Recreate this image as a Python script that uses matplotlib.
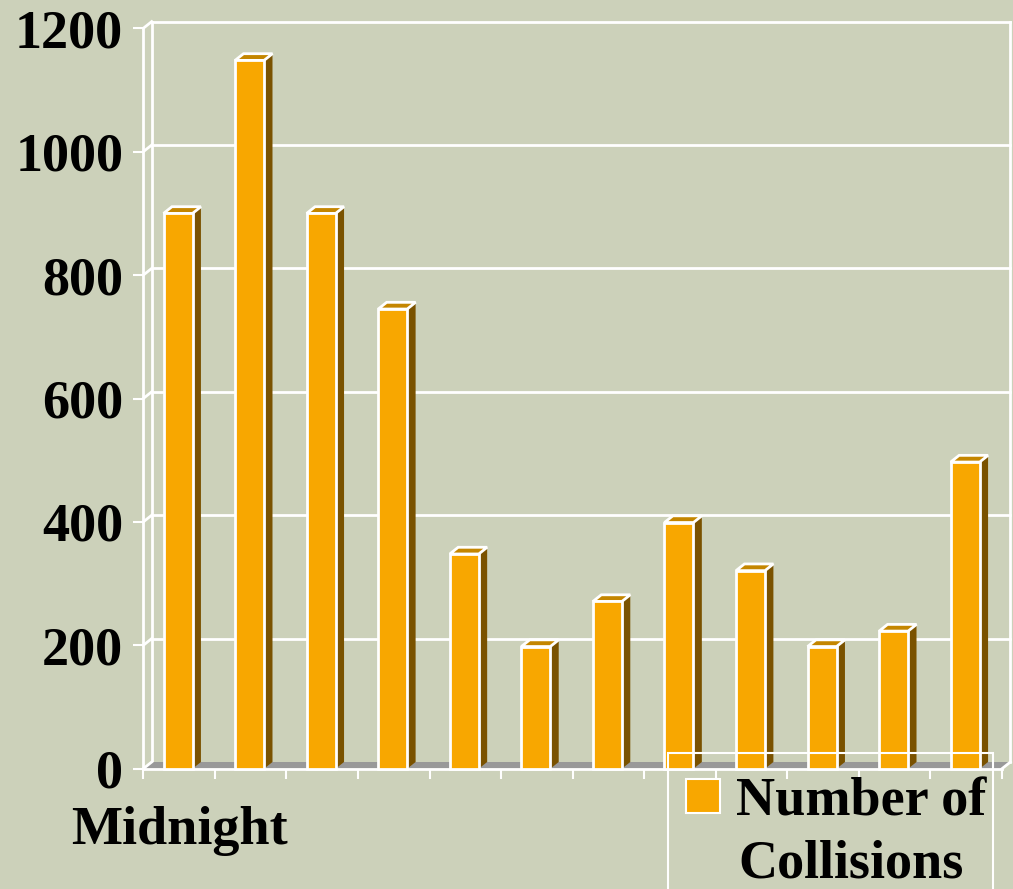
import matplotlib
matplotlib.use("Agg")
import matplotlib.pyplot as plt
from matplotlib.patches import Polygon, Rectangle

# ---- data ----
categories = ["Midnight", "", "", "", "", "", "", "", "", "", "", ""]
collisions = [900, 1148, 900, 745, 348, 198, 271, 399, 321, 198, 223, 497]
yticks = [0, 200, 400, 600, 800, 1000, 1200]
legend_label = "Number of\nCollisions"

# ---- style ----
BG = "#CCD1BA"
FRONT = "#F8A700"
TOP = "#C48600"
SIDE = "#7A5200"
FLOOR = "#999999"
W = "white"
FS = 39

W_PX, H_PX = 1013, 889
fig = plt.figure(figsize=(W_PX / 100, H_PX / 100), dpi=100, facecolor=BG)
x0_px, x1_px = 143.3, 1002.0
y0_px, y1_px = 768.7, 28.3
ax = fig.add_axes([x0_px / W_PX, (H_PX - y0_px) / H_PX,
                   (x1_px - x0_px) / W_PX, (y0_px - y1_px) / H_PX])
ax.set_facecolor("none")
n = len(collisions)
ax.set_xlim(0, n)
ax.set_ylim(0, 1200)
for s in ax.spines.values():
    s.set_visible(False)

px_x = n / (x1_px - x0_px)
px_y = 1200 / (y0_px - y1_px)
ddx = 8.4 * px_x
ddy = 6.7 * px_y
lw = 2.0

# back wall gridlines + side wall diagonals
for v in yticks:
    if v == 0:
        continue
    ax.plot([ddx, n + ddx], [v + ddy, v + ddy], color=W, lw=lw, clip_on=False, zorder=1)
    ax.plot([0, ddx], [v, v + ddy], color=W, lw=lw, clip_on=False, zorder=1)
ax.plot([ddx, ddx], [ddy, 1200 + ddy], color=W, lw=lw, clip_on=False, zorder=1)
ax.plot([n + ddx, n + ddx], [ddy, 1200 + ddy], color=W, lw=lw, clip_on=False, zorder=1)
ax.plot([0, 0], [0, 1200], color=W, lw=lw, clip_on=False, zorder=1)

# floor
floor = Polygon([(0, 0), (n, 0), (n + ddx, ddy), (ddx, ddy)], closed=True,
                facecolor=FLOOR, edgecolor="none", clip_on=False, zorder=2)
ax.add_patch(floor)
ax.plot([0, ddx], [0, ddy], color=W, lw=lw, clip_on=False, zorder=2)
ax.plot([n, n + ddx], [0, ddy], color=W, lw=lw, clip_on=False, zorder=2)
ax.plot([0, n], [0, 0], color=W, lw=lw, clip_on=False, zorder=2.5)

# bars
off, bw = 0.283, 0.405
for i, v in enumerate(collisions):
    bx = i + off
    side = Polygon([(bx + bw, 0), (bx + bw + ddx, ddy), (bx + bw + ddx, v + ddy), (bx + bw, v)],
                   closed=True, facecolor=SIDE, edgecolor="none", clip_on=False, zorder=3)
    ax.add_patch(side)
    top = Polygon([(bx, v), (bx + bw, v), (bx + bw + ddx, v + ddy), (bx + ddx, v + ddy)],
                  closed=True, facecolor=TOP, edgecolor=W, lw=lw, joinstyle="miter",
                  clip_on=False, zorder=3)
    ax.add_patch(top)
    ax.bar(bx, v, width=bw, align="edge", color=FRONT, edgecolor=W, linewidth=lw,
           clip_on=False, zorder=4)

# ticks
ax.set_yticks(yticks)
ax.set_yticklabels([str(t) for t in yticks])
ax.tick_params(axis="y", colors=W, labelcolor="black", length=7.5, width=1.5, pad=7,
               labelsize=FS)
ax.set_xticks([i + 0.5 for i in range(n)])
ax.set_xticklabels(categories)
ax.set_xticks(range(n + 1), minor=True)
ax.tick_params(axis="x", which="major", length=0, labelcolor="black", labelsize=FS, pad=27)
ax.tick_params(axis="x", which="minor", colors=W, length=7.5, width=1.5)
for lab in ax.get_yticklabels() + ax.get_xticklabels():
    lab.set_fontfamily("Liberation Serif")
    lab.set_fontweight("bold")

# legend (drawn manually in figure pixels)
def fx(px):
    return px / W_PX

def fy(py):
    return (H_PX - py) / H_PX

fig.patches.append(Rectangle((fx(668), fy(900)), fx(992.7) - fx(668), fy(753.3) - fy(900),
                             transform=fig.transFigure, facecolor="none", edgecolor=W,
                             lw=1.5, zorder=5))
fig.patches.append(Rectangle((fx(686), fy(812.5)), fx(720) - fx(686), fy(779) - fy(812.5),
                             transform=fig.transFigure, facecolor=FRONT, edgecolor=W,
                             lw=1.5, zorder=6))
fig.text(fx(736), fy(815), legend_label.split("\n")[0], fontsize=FS, fontweight="bold",
         family="Liberation Serif", va="baseline", ha="left", color="black")
fig.text(fx(738), fy(877), legend_label.split("\n")[1], fontsize=FS, fontweight="bold",
         family="Liberation Serif", va="baseline", ha="left", color="black")

fig.savefig("out.png", dpi=100, facecolor=BG)
